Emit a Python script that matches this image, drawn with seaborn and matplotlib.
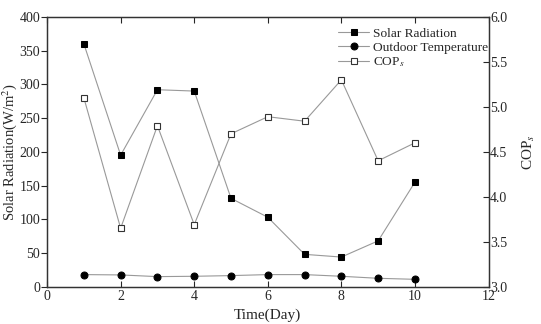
import matplotlib
matplotlib.use("Agg")
import matplotlib.pyplot as plt
import seaborn as sns
import pandas as pd

days = [1, 2, 3, 4, 5, 6, 7, 8, 9, 10]
solar = [360, 195, 292, 290, 131, 103, 48, 44, 68, 155]
temp = [18, 17.5, 15, 15.5, 16.5, 18, 18, 15.5, 12.5, 11]
cop = [5.10, 3.65, 4.79, 3.69, 4.70, 4.89, 4.84, 5.30, 4.40, 4.60]

sns.set_style("ticks")
plt.rcParams['font.family'] = ['Liberation Serif', 'DejaVu Serif']
plt.rcParams['mathtext.fontset'] = 'stix'

df = pd.DataFrame({"day": days, "solar": solar, "temp": temp, "cop": cop})

fig, ax = plt.subplots(figsize=(5.41, 3.24), dpi=100)
fig.subplots_adjust(left=0.087, right=0.903, top=0.948, bottom=0.115)

lc = "#999999"
sns.lineplot(data=df, x="day", y="solar", ax=ax, color=lc, lw=0.8,
             marker="s", markersize=5, markerfacecolor="black",
             markeredgecolor="black", label="Solar Radiation", legend=False)
sns.lineplot(data=df, x="day", y="temp", ax=ax, color=lc, lw=0.8,
             marker="o", markersize=5, markerfacecolor="black",
             markeredgecolor="black", label="Outdoor Temperature", legend=False)
ax2 = ax.twinx()
sns.lineplot(data=df, x="day", y="cop", ax=ax2, color=lc, lw=0.8,
             marker="s", markersize=5, markerfacecolor="white",
             markeredgecolor="#333333", markeredgewidth=0.8,
             label="COP$_s$", legend=False)

ax.set_xlim(0, 12)
ax.set_ylim(0, 400)
ax2.set_ylim(3.0, 6.0)
ax.set_xticks(range(0, 13, 2))
ax.set_yticks(range(0, 401, 50))
ax2.set_yticks([3.0, 3.5, 4.0, 4.5, 5.0, 5.5, 6.0])
ax2.set_yticklabels(["3.0", "3.5", "4.0", "4.5", "5.0", "5.5", "6.0"])

ax.set_xlabel("Time(Day)", fontsize=11)
ax.set_ylabel("Solar Radiation(W/m$^2$)", fontsize=10.5, labelpad=0)
ax2.set_ylabel("COP$_s$", fontsize=11, labelpad=10)

for a in (ax, ax2):
    for s in a.spines.values():
        s.set_visible(True)
        s.set_linewidth(0.9)
        s.set_color("#333333")
ax.tick_params(axis="x", direction="in", top=True, labelsize=10, length=4, width=0.8, pad=2)
ax.tick_params(axis="y", direction="out", labelsize=10, length=4, width=0.8, pad=1)
ax2.tick_params(axis="y", direction="in", labelsize=10, length=4, width=0.8, pad=1)

h1, l1 = ax.get_legend_handles_labels()
h2, l2 = ax2.get_legend_handles_labels()
ax2.legend(h1 + h2, l1 + l2, loc="upper right", bbox_to_anchor=(1.02, 0.995),
           frameon=False, fontsize=9.6, handlelength=2.3, borderpad=0.2,
           labelspacing=0.12, handletextpad=0.3)

fig.savefig("out.png", dpi=100)
